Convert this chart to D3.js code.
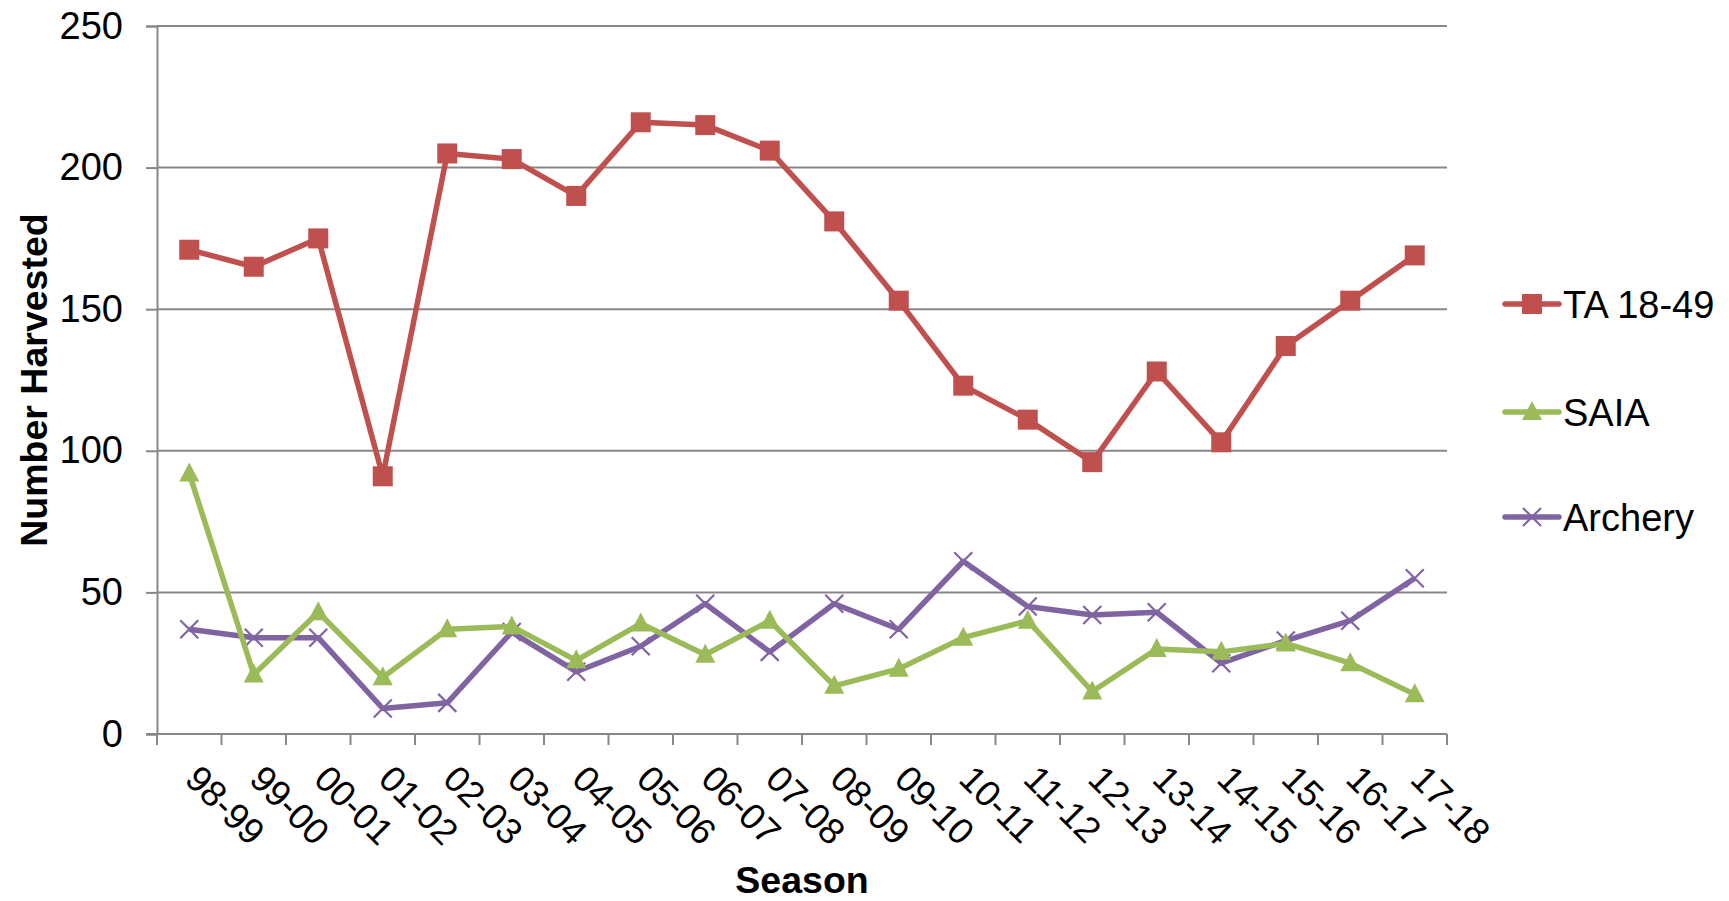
<!DOCTYPE html>
<html><head><meta charset="utf-8">
<script src="https://cdn.jsdelivr.net/npm/d3@7"></script>
<style>body{margin:0;background:#fff}svg{display:block}text{font-family:"Liberation Sans",Arial,sans-serif}</style>
</head><body>
<script>
const seasons = ["98-99","99-00","00-01","01-02","02-03","03-04","04-05","05-06","06-07","07-08","08-09","09-10","10-11","11-12","12-13","13-14","14-15","15-16","16-17","17-18"];
const ta1849 = [171,165,175,91,205,203,190,216,215,206,181,153,123,111,96,128,103,137,153,169];
const saia = [92,21,43,20,37,38,26,39,28,40,17,23,34,40,15,30,29,32,25,14];
const archery = [37,34,34,9,11,36,22,31,46,29,46,37,61,45,42,43,25,33,40,55];
const yTicks = [0,50,100,150,200,250];
const seriesNames = ["TA 18-49","SAIA","Archery"];
const seriesColors = ["#C0504D","#9BBB59","#8064A2"];
const seriesMarkers = ["square","triangle","cross"];

const W = 1729, H = 901;
const L = 157, R = 1447, T = 26, B = 734;
const svg = d3.select("body").append("svg").attr("width", W).attr("height", H);

const y = d3.scaleLinear().domain([0,250]).range([B,T]);
const band = d3.scaleBand().domain(seasons).range([L,R]);
const x = d3.scalePoint().domain(seasons).range([L,R]).padding(0.5);
const grid = "#878787";

// gridlines
svg.append("g").selectAll("line").data(yTicks.filter(v=>v>0)).join("line")
  .attr("x1", L).attr("x2", R).attr("y1", d=>y(d)).attr("y2", d=>y(d))
  .attr("stroke", grid).attr("stroke-width", 2);

// y axis
const ya = svg.append("g").attr("transform", `translate(${L},0)`)
  .call(d3.axisLeft(y).tickValues(yTicks).tickSize(11).tickPadding(23));
ya.select(".domain").attr("stroke", grid).attr("stroke-width", 2);
ya.selectAll(".tick line").attr("stroke", grid).attr("stroke-width", 2);
ya.selectAll(".tick text").attr("font-size", 38).attr("fill", "#000")
  .attr("font-family", "Liberation Sans, Arial, sans-serif");

// x axis
const xa = svg.append("g");
xa.append("line").attr("x1", L-11).attr("x2", R).attr("y1", B).attr("y2", B)
  .attr("stroke", grid).attr("stroke-width", 2);
const tickPos = seasons.map(s=>band(s)).concat([R]);
xa.selectAll("line.t").data(tickPos).join("line").attr("class","t")
  .attr("x1", d=>d).attr("x2", d=>d).attr("y1", B).attr("y2", B+11)
  .attr("stroke", grid).attr("stroke-width", 2);
xa.selectAll("text").data(seasons).join("text")
  .attr("transform", d=>`translate(${x(d)-6},${B+47}) rotate(45)`)
  .attr("font-size", 36.5).attr("fill", "#000").text(d=>d);

// axis titles
svg.append("text").attr("transform", `translate(47,${(T+B)/2}) rotate(-90)`)
  .attr("text-anchor","middle").attr("font-size",37.5).attr("font-weight","bold").text("Number Harvested");
svg.append("text").attr("x",(L+R)/2).attr("y",893)
  .attr("text-anchor","middle").attr("font-size",37.5).attr("font-weight","bold").text("Season");

function marker(g, type, color){
  if(type==="square"){
    g.append("rect").attr("x",-10).attr("y",-10).attr("width",20).attr("height",20).attr("fill",color);
  } else if(type==="triangle"){
    g.append("path").attr("d","M0,-11L10,8L-10,8Z").attr("fill",color);
  } else {
    g.append("path").attr("d","M-9,-9L9,9M-9,9L9,-9").attr("stroke",color).attr("stroke-width",2.2).attr("fill","none");
  }
}

const allSeries = [ta1849, saia, archery];
const line = d3.line().x((d,i)=>x(seasons[i])).y(d=>y(d));
[2,1,0].forEach(k=>{
  const g = svg.append("g");
  g.append("path").attr("d", line(allSeries[k])).attr("fill","none")
    .attr("stroke", seriesColors[k]).attr("stroke-width",5.5).attr("stroke-linejoin","round");
  allSeries[k].forEach((v,i)=>{
    const mg = g.append("g").attr("transform",`translate(${x(seasons[i])},${y(v)})`);
    marker(mg, seriesMarkers[k], seriesColors[k]);
  });
});

// legend
const legY = [304, 412, 517];
seriesNames.forEach((n,k)=>{
  const g = svg.append("g").attr("transform",`translate(0,${legY[k]})`);
  g.append("line").attr("x1",1505).attr("x2",1559).attr("y1",0).attr("y2",0)
    .attr("stroke",seriesColors[k]).attr("stroke-width",5.5).attr("stroke-linecap","round");
  const mg = g.append("g").attr("transform","translate(1532,0)");
  marker(mg, seriesMarkers[k], seriesColors[k]);
  g.append("text").attr("x",1563).attr("y",0).attr("dy","0.36em").attr("font-size",38).text(n);
});
</script>
</body></html>
